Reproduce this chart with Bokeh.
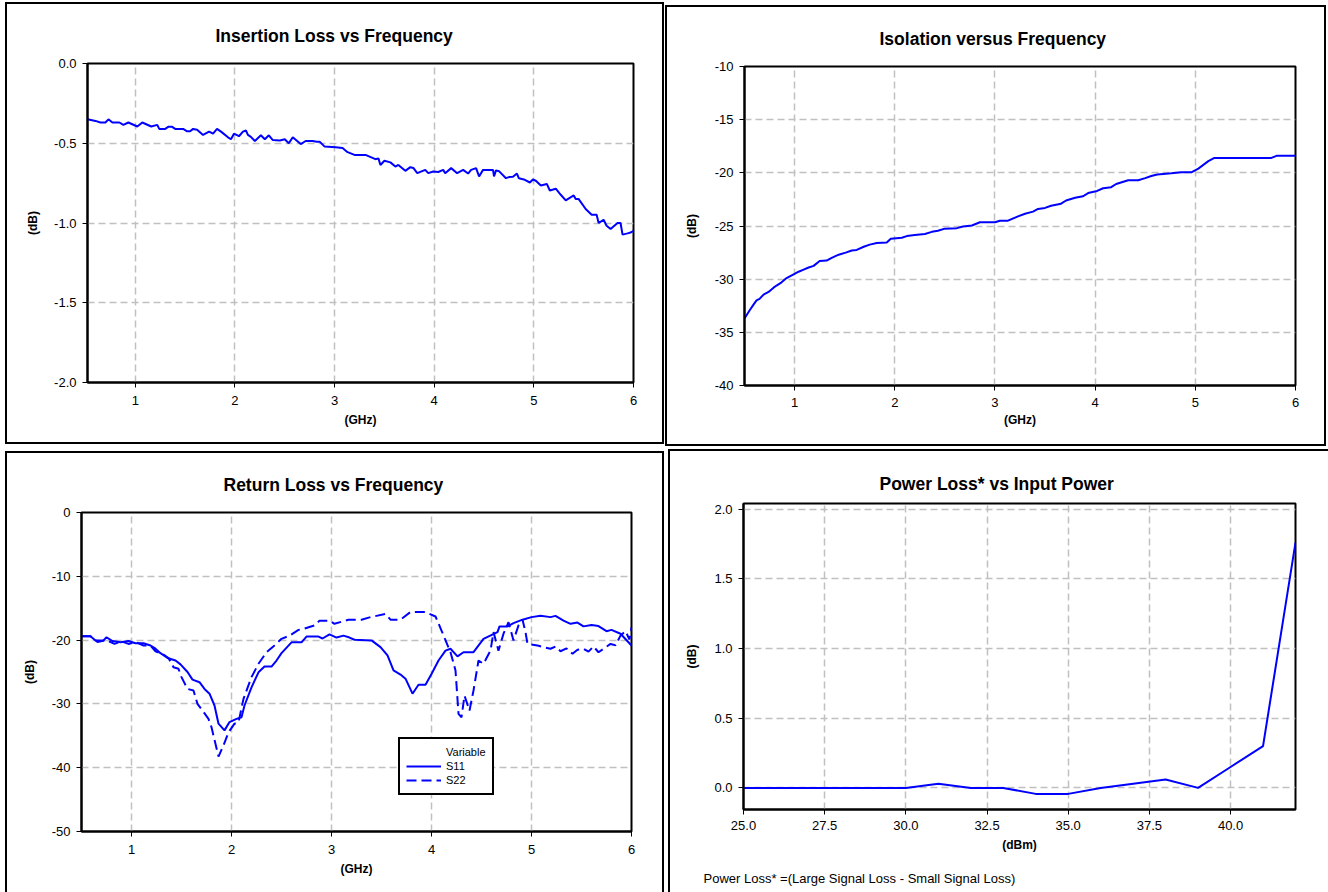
from bokeh.plotting import figure
from bokeh.layouts import column, row
from bokeh.models import (FixedTicker, NumeralTickFormatter, Range1d, Legend,
                          LegendItem, Title)
from bokeh.embed import file_html
from bokeh.resources import INLINE

# ---------------- data ----------------
il_f = [0.52, 0.60, 0.65, 0.70, 0.73, 0.77, 0.84, 0.88, 0.93, 1.02,
        1.07, 1.16, 1.22, 1.24, 1.30, 1.33, 1.37, 1.40, 1.48, 1.52,
        1.55, 1.58, 1.62, 1.68, 1.74, 1.78, 1.82, 1.86, 1.93, 1.96,
        1.99, 2.04, 2.08, 2.11, 2.13, 2.16, 2.20, 2.26, 2.30, 2.34,
        2.38, 2.45, 2.50, 2.54, 2.58, 2.66, 2.71, 2.78, 2.82, 2.85,
        2.90, 3.01, 3.08, 3.13, 3.20, 3.31, 3.41, 3.44, 3.46, 3.50,
        3.56, 3.61, 3.64, 3.71, 3.76, 3.79, 3.83, 3.91, 3.94, 3.99,
        4.04, 4.09, 4.11, 4.17, 4.23, 4.29, 4.34, 4.37, 4.42, 4.45,
        4.49, 4.59, 4.60, 4.62, 4.65, 4.72, 4.75, 4.79, 4.83, 4.85,
        4.90, 4.96, 4.99, 5.02, 5.07, 5.13, 5.16, 5.22, 5.27, 5.32,
        5.40, 5.42, 5.45, 5.52, 5.58, 5.63, 5.65, 5.70, 5.73, 5.77,
        5.84, 5.87, 5.89, 5.94, 5.97, 6.00]
il_db = [-0.35, -0.36, -0.37, -0.37, -0.35, -0.37, -0.37, -0.385, -0.37, -0.395,
         -0.37, -0.395, -0.385, -0.41, -0.41, -0.397, -0.397, -0.41, -0.41, -0.425,
         -0.425, -0.41, -0.415, -0.448, -0.427, -0.44, -0.41, -0.427, -0.463, -0.475,
         -0.44, -0.456, -0.427, -0.42, -0.448, -0.46, -0.486, -0.45, -0.475, -0.45,
         -0.48, -0.483, -0.475, -0.50, -0.463, -0.505, -0.486, -0.486, -0.49, -0.49,
         -0.521, -0.525, -0.53, -0.556, -0.573, -0.573, -0.60, -0.595, -0.636, -0.61,
         -0.62, -0.646, -0.636, -0.673, -0.65, -0.655, -0.6875, -0.667, -0.6875, -0.677,
         -0.68, -0.667, -0.6875, -0.656, -0.6875, -0.667, -0.69, -0.667, -0.656, -0.708,
         -0.667, -0.667, -0.708, -0.67, -0.675, -0.719, -0.712, -0.71, -0.69, -0.72,
         -0.727, -0.746, -0.727, -0.735, -0.765, -0.755, -0.796, -0.785, -0.823, -0.858,
         -0.827, -0.85, -0.85, -0.9125, -0.948, -0.948, -1.0, -0.98, -1.017, -1.0375,
         -1.0, -1.0, -1.073, -1.065, -1.06, -1.05]

iso_f = [0.50, 0.55, 0.59, 0.62, 0.65, 0.69, 0.74, 0.79, 0.82, 0.87,
         0.92, 0.99, 1.04, 1.09, 1.14, 1.19, 1.25, 1.32, 1.37, 1.44,
         1.51, 1.57, 1.62, 1.69, 1.75, 1.82, 1.92, 1.96, 2.07, 2.12,
         2.20, 2.30, 2.37, 2.43, 2.50, 2.62, 2.68, 2.77, 2.85, 3.00,
         3.05, 3.13, 3.23, 3.30, 3.38, 3.43, 3.50, 3.56, 3.66, 3.71,
         3.80, 3.88, 3.93, 4.02, 4.08, 4.16, 4.21, 4.33, 4.43, 4.50,
         4.56, 4.62, 4.68, 4.76, 4.86, 4.96, 5.03, 5.13, 5.19, 5.76,
         5.81, 6.00]
iso_db = [-33.7, -32.95, -32.4, -32.0, -31.85, -31.45, -31.2, -30.8, -30.6, -30.3,
          -29.9, -29.55, -29.3, -29.1, -28.9, -28.75, -28.3, -28.25, -28.0, -27.7,
          -27.5, -27.3, -27.25, -26.95, -26.75, -26.6, -26.55, -26.2, -26.1, -25.95,
          -25.85, -25.75, -25.55, -25.45, -25.25, -25.2, -25.05, -24.95, -24.65, -24.65,
          -24.5, -24.5, -24.1, -23.85, -23.65, -23.4, -23.3, -23.1, -22.9, -22.6,
          -22.35, -22.2, -21.9, -21.7, -21.45, -21.35, -21.05, -20.7, -20.7, -20.5,
          -20.3, -20.15, -20.1, -20.05, -19.95, -19.95, -19.6, -18.9, -18.6, -18.6,
          -18.4, -18.4]

s11_f = [0.50, 0.59, 0.64, 0.72, 0.75, 0.81, 0.89, 0.97, 1.04, 1.12,
         1.19, 1.24, 1.29, 1.36, 1.44, 1.49, 1.56, 1.61, 1.68, 1.73,
         1.78, 1.83, 1.87, 1.93, 1.98, 2.05, 2.10, 2.13, 2.20, 2.27,
         2.33, 2.40, 2.45, 2.50, 2.60, 2.70, 2.75, 2.87, 2.91, 2.98,
         3.05, 3.12, 3.18, 3.23, 3.40, 3.49, 3.56, 3.62, 3.69, 3.74,
         3.81, 3.87, 3.94, 4.00, 4.07, 4.14, 4.19, 4.26, 4.32, 4.42,
         4.52, 4.66, 4.68, 4.76, 4.82, 4.91, 5.00, 5.09, 5.19, 5.24,
         5.32, 5.39, 5.46, 5.52, 5.60, 5.67, 5.75, 5.80, 5.89, 6.00]
s11_db = [-19.4, -19.4, -20.05, -20.05, -19.55, -20.15, -20.35, -20.15, -20.5, -20.5,
          -20.85, -21.35, -22.05, -22.8, -23.2, -23.8, -25.0, -26.2, -26.6, -27.65,
          -28.4, -30.25, -33.1, -34.15, -32.85, -32.35, -32.1, -30.25, -27.4, -25.05,
          -24.15, -24.15, -23.2, -22.05, -20.35, -20.35, -19.45, -19.45, -19.75, -19.1,
          -19.6, -19.3, -19.6, -19.95, -20.05, -21.1, -22.4, -24.75, -25.4, -26.05,
          -28.4, -27.0, -27.0, -25.3, -23.2, -21.65, -21.35, -22.55, -21.9, -21.9,
          -19.8, -18.75, -17.85, -17.85, -17.35, -16.8, -16.4, -16.2, -16.4, -16.2,
          -16.95, -17.45, -17.25, -17.85, -17.65, -17.8, -18.6, -18.4, -19.0, -20.85]

s22_f = [0.50, 0.59, 0.66, 0.75, 0.83, 0.90, 0.97, 1.04, 1.12, 1.19,
         1.24, 1.32, 1.37, 1.42, 1.47, 1.50, 1.56, 1.62, 1.66, 1.71,
         1.77, 1.80, 1.87, 1.92, 1.97, 2.03, 2.07, 2.12, 2.20, 2.27,
         2.35, 2.43, 2.50, 2.58, 2.67, 2.73, 2.83, 2.88, 2.98, 3.03,
         3.17, 3.30, 3.39, 3.54, 3.59, 3.69, 3.79, 3.94, 4.04, 4.10,
         4.19, 4.24, 4.27, 4.30, 4.33, 4.38, 4.42, 4.47, 4.52, 4.59,
         4.62, 4.67, 4.72, 4.77, 4.82, 4.87, 4.91, 4.94, 4.96, 5.06,
         5.12, 5.19, 5.24, 5.29, 5.35, 5.41, 5.46, 5.52, 5.57, 5.62,
         5.67, 5.79, 5.84, 5.89, 5.94, 5.98, 6.00]
s22_db = [-19.4, -19.4, -20.3, -20.0, -20.6, -20.2, -20.6, -20.3, -20.85, -20.85,
          -21.75, -22.25, -22.8, -24.25, -24.5, -25.8, -27.65, -27.9, -30.0, -31.05,
          -32.35, -33.65, -38.25, -36.5, -34.45, -33.1, -32.9, -29.2, -25.8, -23.7,
          -21.9, -20.85, -19.8, -19.3, -18.4, -18.2, -17.7, -16.95, -16.95, -17.45,
          -16.8, -16.8, -16.4, -15.9, -16.8, -16.8, -15.6, -15.6, -16.3, -18.5,
          -21.9, -24.75, -31.55, -32.1, -28.7, -31.05, -27.9, -23.2, -23.7, -21.65,
          -18.75, -21.65, -19.0, -17.2, -20.05, -17.7, -16.8, -18.75, -20.6, -20.85,
          -21.1, -21.35, -21.0, -21.75, -21.3, -22.15, -21.5, -21.35, -21.8, -21.0,
          -21.9, -20.6, -20.8, -19.3, -18.6, -19.9, -18.0]

pw_in = [25, 26, 27, 28, 29, 30, 31, 32, 33, 34, 35, 36, 37, 38, 39, 40, 41, 42]
pw_loss = [0, 0, 0, 0, 0, 0, 0.03, 0, 0, -0.043, -0.043, 0, 0.03, 0.06, 0, 0.15, 0.30, 1.76]

ghz_ticks = [1, 2, 3, 4, 5, 6]
il_ticks = [0.0, -0.5, -1.0, -1.5, -2.0]
iso_ticks = [-10, -15, -20, -25, -30, -35, -40]
rl_ticks = [0, -10, -20, -30, -40, -50]
pw_xticks = [25, 27.5, 30, 32.5, 35, 37.5, 40]
pw_yticks = [0.0, 0.5, 1.0, 1.5, 2.0]

FONT = "Liberation Sans"
BLUE = "#0000ff"


def panel(title, xr, yr, xticks, yticks, xfmt, yfmt, xlabel, size, borders,
          t_offset, t_standoff, ylab_standoff, xlab_standoff=8, xaxlab_standoff=5):
    w, h = size
    left, right, top, bottom = borders
    p = figure(width=w, height=h, x_range=Range1d(*xr), y_range=Range1d(*yr),
               output_backend="svg", toolbar_location=None,
               min_border_left=left, min_border_right=right,
               min_border_top=top, min_border_bottom=bottom)
    p.title = Title(text=title, align="left", offset=t_offset, standoff=t_standoff,
                    text_font=FONT, text_font_size="17.5px", text_font_style="bold",
                    text_color="black")
    p.background_fill_color = "white"
    p.border_fill_color = "white"
    p.outline_line_color = "black"
    p.outline_line_width = 2
    for ax in (p.xaxis[0], p.yaxis[0]):
        ax.axis_line_color = "black"
        ax.axis_line_width = 2
        ax.major_tick_in = 0
        ax.major_tick_out = 5
        ax.major_tick_line_color = "black"
        ax.major_tick_line_width = 1
        ax.minor_tick_line_color = None
        ax.major_label_text_font = FONT
        ax.major_label_text_font_size = "13px"
        ax.major_label_text_color = "black"
        ax.axis_label_text_font = FONT
        ax.axis_label_text_font_size = "12px"
        ax.axis_label_text_font_style = "bold"
        ax.axis_label_text_color = "black"
    p.xaxis[0].ticker = FixedTicker(ticks=xticks)
    p.yaxis[0].ticker = FixedTicker(ticks=yticks)
    p.xaxis[0].formatter = NumeralTickFormatter(format=xfmt)
    p.yaxis[0].formatter = NumeralTickFormatter(format=yfmt)
    p.xaxis[0].axis_label = xlabel
    p.yaxis[0].axis_label = "(dB)"
    p.xaxis[0].major_label_standoff = xlab_standoff
    p.yaxis[0].major_label_standoff = 6
    p.xaxis[0].axis_label_standoff = xaxlab_standoff
    p.yaxis[0].axis_label_standoff = ylab_standoff
    for g in (p.xgrid[0], p.ygrid[0]):
        g.grid_line_color = "#c0c0c0"
        g.grid_line_width = 1.5
        g.grid_line_dash = "7 4"
    return p


def framed(p, margin, border_css):
    return column(p, margin=margin, styles=border_css)


p1 = panel("Insertion Loss vs Frequency", (0.52, 6.0), (-2.0, 0.0), ghz_ticks, il_ticks,
           "0", "0.0", "(GHz)", (655, 438), (80, 29, 59, 60), 128, 36, 11)
p1.line(il_f, il_db, line_color=BLUE, line_width=2)

p2 = panel("Isolation versus Frequency", (0.50, 6.0), (-40, -10), ghz_ticks, iso_ticks,
           "0", "0", "(GHz)", (657, 437), (77, 29, 59, 59), 135, 36, 13, 7, 3)
p2.line(iso_f, iso_db, line_color=BLUE, line_width=2)

p3 = panel("Return Loss vs Frequency", (0.50, 6.0), (-50, 0), ghz_ticks, rl_ticks,
           "0", "0", "(GHz)", (655, 439), (74, 31, 59, 61), 142, 36, 12)
r11 = p3.line(s11_f, s11_db, line_color=BLUE, line_width=2)
r22 = p3.line(s22_f, s22_db, line_color=BLUE, line_width=2, line_dash="10 5")
rhead = p3.line(x=[], y=[], line_alpha=0)
leg = Legend(items=[LegendItem(label="Variable", renderers=[rhead]),
                    LegendItem(label="S11", renderers=[r11]),
                    LegendItem(label="S22", renderers=[r22])],
             location=(317, 36), orientation="vertical",
             border_line_color="black", border_line_width=2, border_line_alpha=1.0,
             background_fill_color="white", background_fill_alpha=1.0,
             padding=6, spacing=0, margin=0, glyph_width=35, glyph_height=14,
             label_height=14, label_standoff=5,
             label_text_font=FONT, label_text_font_size="11px", label_text_color="black")
p3.add_layout(leg)

p4 = panel("Power Loss* vs Input Power", (25, 42), (-0.155, 2.04), pw_xticks, pw_yticks,
           "0.0", "0.0", "(dBm)", (658, 441), (73, 33, 52, 83), 136, 20, 12, 6)
p4.line(pw_in, pw_loss, line_color=BLUE, line_width=2)
# small blank spacer between the axis and the footnote
p4.add_layout(Title(text=" ", align="left", standoff=6, text_font=FONT,
                    text_font_size="2px"), "below")
p4.add_layout(Title(text="Power Loss* =(Large Signal Loss - Small Signal Loss)",
                    align="left", offset=-40, standoff=8, text_font=FONT,
                    text_font_size="13px", text_font_style="normal", text_color="black"),
              "below")

B = "2px solid black"
w1 = framed(p1, (2, 0, 2, 5), {"border": B})
w2 = framed(p2, (5, 2, 0, 1), {"border": B})
w3 = framed(p3, (5, 2, 0, 5), {"border-top": B, "border-left": B, "border-right": B})
w4 = framed(p4, (3, 0, 0, 2), {"border-top": B, "border-left": B})

layout = column(row(w1, w2), row(w3, w4))

with open("out.html", "w") as f:
    f.write(file_html(layout, INLINE))
